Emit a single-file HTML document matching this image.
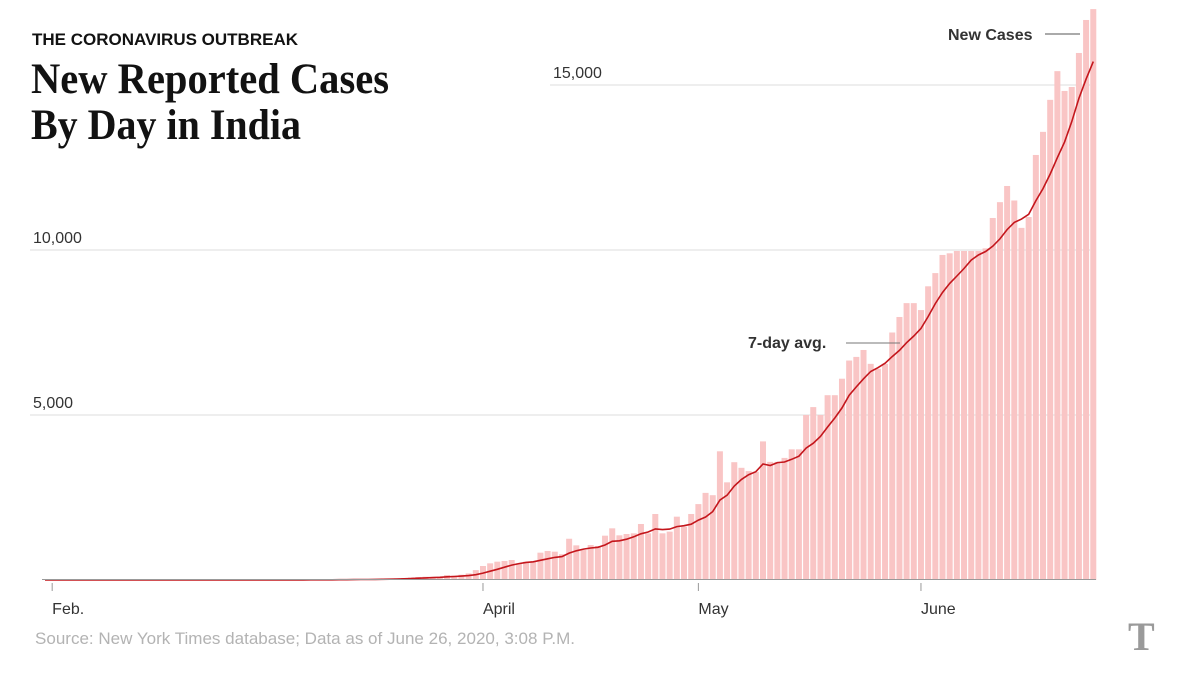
<!DOCTYPE html>
<html><head><meta charset="utf-8"><style>
html,body{margin:0;padding:0;background:#fff;}
svg{display:block;}
</style></head><body>
<svg id="chart" width="1200" height="675" viewBox="0 0 1200 675" xmlns="http://www.w3.org/2000/svg">
<text x="32" y="45" font-family="Liberation Sans, sans-serif" font-weight="bold" font-size="17" fill="#121212" textLength="266" lengthAdjust="spacingAndGlyphs">THE CORONAVIRUS OUTBREAK</text>
<text x="31" y="93" font-family="Liberation Serif, serif" font-weight="bold" font-size="43" fill="#121212" textLength="358" lengthAdjust="spacingAndGlyphs">New Reported Cases</text>
<text x="31" y="139" font-family="Liberation Serif, serif" font-weight="bold" font-size="43" fill="#121212" textLength="270" lengthAdjust="spacingAndGlyphs">By Day in India</text>
<g id="grid"></g>
<g id="bars"></g>
<g id="line"></g>
<g id="xaxis"></g>
<text x="948" y="40" font-family="Liberation Sans, sans-serif" font-weight="bold" font-size="16" fill="#333">New Cases</text>
<line x1="1045" y1="34" x2="1080" y2="34" stroke="#555" stroke-width="1"/>
<text x="748" y="348" font-family="Liberation Sans, sans-serif" font-weight="bold" font-size="16" fill="#333">7-day avg.</text>
<line x1="846" y1="343" x2="900" y2="343" stroke="#777" stroke-width="1"/>
<text x="35" y="644" font-family="Liberation Sans, sans-serif" font-size="17" fill="#b3b3b3" textLength="540" lengthAdjust="spacingAndGlyphs">Source: New York Times database; Data as of June 26, 2020, 3:08 P.M.</text>
<text x="1128" y="650" font-family="Liberation Serif, serif" font-weight="bold" font-size="40" fill="#9a9a9a">T</text>
</svg>
<script>
// daily new cases starting Jan 31, 2020
const febVals = [0,1,0,1,0,0,0,0,0,0,0,0,0,0,0,0,0,0,0,0,0,0,0,0,0,0,0,0,0,0];
const marVals = [1,2,0,20,1,2,3,5,10,12,15,12,8,20,23,20,25,30,40,50,60,80,90,100,90,100,150,130,160,200,300];
const aprVals = [424,505,555,576,606,505,555,555,828,879,858,780,1250,1050,909,1060,1030,1343,1566,1354,1394,1414,1697,1414,2000,1414,1465,1919,1616,2000];
const mayVals = [2300,2640,2570,3900,2960,3570,3400,3300,3280,4200,3580,3580,3700,3960,3960,5000,5240,5000,5600,5600,6100,6650,6760,6970,6550,6400,6550,7500,7970,8390,8390];
const junVals = [8180,8900,9300,9850,9900,9970,9970,9970,9970,10050,10970,11450,11940,11500,10670,11000,12880,13580,14550,15420,14820,14940,15970,16970,17300];
const yTicks = [5000,10000,15000];
const yTickLabels = ["5,000","10,000","15,000"];
const monthLabels = ["Feb.","April","May","June"];
const monthIdx = [1,61,91,122];

const values = [0].concat(febVals.slice(0,29), marVals, aprVals, mayVals, junVals);
const NS = "http://www.w3.org/2000/svg";
const x0 = 45, step = 7.18, y0 = 580, k = 0.033;
const xs = i => x0 + i*step;
const ys = v => y0 - v*k;
function mk(tag, attrs, parent){const e=document.createElementNS(NS,tag);for(const a in attrs)e.setAttribute(a,attrs[a]);parent.appendChild(e);return e;}
const grid=document.getElementById('grid'), bars=document.getElementById('bars'), line=document.getElementById('line'), xaxis=document.getElementById('xaxis');
yTicks.forEach((t,j)=>{
  const gx = t===15000 ? 550 : 30;
  const l = mk('line',{x1:gx,x2:1090,y1:ys(t),y2:ys(t),stroke:'#dcdcdc','stroke-width':1},grid);
  
  
  const tx = mk('text',{x:gx+3,y:ys(t)-7,'font-family':'Liberation Sans, sans-serif','font-size':16,fill:'#333'},grid);
  tx.textContent = yTickLabels[j];
  
  
});
values.forEach((v,i)=>{
  const r = mk('rect',{x:xs(i)-3,y:ys(v),width:6,height:Math.max(0,v*k),fill:'#f9c5c5'},bars);
  
  
});
const avg = values.map((v,i)=>{const s=values.slice(Math.max(0,i-6),i+1);return s.reduce((a,b)=>a+b,0)/s.length;});
const p = mk('path',{d:avg.map((v,i)=>(i?'L':'M')+xs(i).toFixed(1)+' '+ys(v).toFixed(1)).join(' '),fill:'none',stroke:'#c4161c','stroke-width':1.6},line);


const ax = mk('line',{x1:42,x2:1096,y1:579.5,y2:579.5,stroke:'#999','stroke-width':1},xaxis);


monthLabels.forEach((m,j)=>{
  const x = xs(monthIdx[j]);
  const t = mk('line',{x1:x,x2:x,y1:583,y2:591,stroke:'#999','stroke-width':1},xaxis);
  
  
  const tx = mk('text',{x:x,y:614,'font-family':'Liberation Sans, sans-serif','font-size':16,fill:'#333'},xaxis);
  tx.textContent = m;
  
  
});
</script>
</body></html>
